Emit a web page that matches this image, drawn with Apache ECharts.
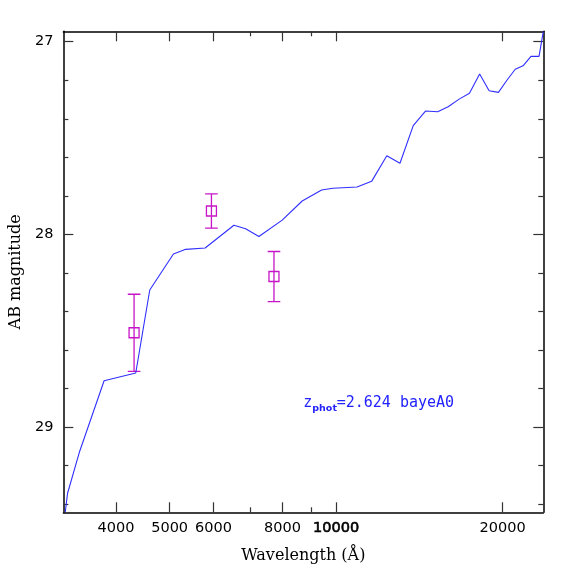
<!DOCTYPE html>
<html>
<head>
<meta charset="utf-8">
<script src="https://cdn.jsdelivr.net/npm/echarts@6/dist/echarts.min.js"></script>
<style>
html,body{margin:0;padding:0;background:#fff;}
#chart{width:574px;height:574px;}
</style>
</head>
<body>
<div id="chart"></div>
<script>
// Model spectrum (wavelength in Angstrom, AB magnitude)
const modelWave = [3237, 3269, 3431, 3806, 4342, 4603, 5080, 5346, 5797, 6535, 6861, 7251, 7990, 8683, 9415, 9868, 10911, 11596, 12351, 13048, 13789, 14510, 15266, 15946, 16695, 17426, 18182, 18913, 19660, 20383, 21086, 21782, 22515, 23280, 23700];
const modelMag  = [29.443, 29.344, 29.134, 28.760, 28.720, 28.289, 28.102, 28.078, 28.071, 27.953, 27.971, 28.011, 27.926, 27.827, 27.770, 27.761, 27.754, 27.725, 27.592, 27.631, 27.436, 27.360, 27.364, 27.338, 27.298, 27.268, 27.168, 27.255, 27.263, 27.199, 27.143, 27.125, 27.076, 27.076, 26.947];
// Observed photometry
const obsWave = [4312, 5951, 7721];
const obsMag  = [28.511, 27.879, 28.219];
const obsErr  = [0.200, 0.089, 0.130];
// Axes
const xRange = [3212, 23700];
const yRange = [26.946, 29.443];
const xMajorTicks = [4000, 5000, 6000, 8000, 10000, 20000];
const xMinorTicks = [7000, 9000];
const yMajorTicks = [27, 28, 29];
const yMinorTicks = [27.2, 27.4, 27.6, 27.8, 28.2, 28.4, 28.6, 28.8, 29.2, 29.4];
const annotation = { sym: 'z', sub: 'phot', rest: '=2.624 bayeA0' };

const lg = Math.log10;
const lineColor = '#2f2fff';
const errColor = '#c814c8';
const tickColor = '#333';
const tickFont = 'DejaVu Sans';

function xAx(pos, ticks, len, showLabel, showLine) {
  return {
    type: 'value', position: pos, min: lg(xRange[0]), max: lg(xRange[1]),
    splitLine: { show: false },
    axisLine: { show: showLine, onZero: false, lineStyle: { color: '#000', width: 1.5 } },
    axisTick: { show: true, inside: true, length: len, customValues: ticks.map(lg), lineStyle: { color: tickColor, width: 1.2 } },
    axisLabel: showLabel ? {
      show: true, customValues: ticks.map(lg), margin: 8, color: '#000', fontFamily: tickFont, fontSize: 14.5,
      formatter: v => { const n = Math.round(Math.pow(10, v)); return n === 10000 ? '{b|' + n + '}' : String(n); },
      rich: { b: { fontFamily: tickFont, fontSize: 14.5, color: '#000', textBorderColor: '#000', textBorderWidth: 0.6 } }
    } : { show: false }
  };
}
function yAx(pos, ticks, len, showLabel, showLine) {
  return {
    type: 'value', position: pos, inverse: true, min: yRange[0], max: yRange[1],
    splitLine: { show: false },
    axisLine: { show: showLine, onZero: false, lineStyle: { color: '#000', width: 1.5 } },
    axisTick: { show: true, inside: true, length: len, customValues: ticks, lineStyle: { color: tickColor, width: 1.2 } },
    axisLabel: showLabel ? { show: true, customValues: ticks, margin: 10, color: '#000', fontFamily: tickFont, fontSize: 14.5, formatter: v => String(Math.round(v)) } : { show: false }
  };
}

const xAxes = [
  xAx('bottom', xMajorTicks, 10, true, true),
  xAx('bottom', xMinorTicks, 5, false, false),
  xAx('top', xMajorTicks, 10, false, true),
  xAx('top', xMinorTicks, 5, false, false)
];
xAxes[0].name = 'Wavelength (\u00c5)';
xAxes[0].nameLocation = 'middle';
xAxes[0].nameGap = 36;
xAxes[0].nameTextStyle = { fontFamily: 'DejaVu Serif', fontSize: 16, color: '#000' };

const yAxes = [
  yAx('left', yMajorTicks, 10, true, true),
  yAx('left', yMinorTicks, 5, false, false),
  yAx('right', yMajorTicks, 10, false, true),
  yAx('right', yMinorTicks, 5, false, false)
];
yAxes[0].name = 'AB magnitude';
yAxes[0].nameLocation = 'middle';
yAxes[0].nameGap = 38;
yAxes[0].nameRotate = 90;
yAxes[0].nameTextStyle = { fontFamily: 'DejaVu Serif', fontSize: 16, color: '#000' };

const chart = echarts.init(document.getElementById('chart'), null, { renderer: 'canvas' });
chart.setOption({
  animation: false,
  backgroundColor: '#fff',
  grid: { left: 62.5, right: 30.7, top: 31.3, bottom: 61.7, containLabel: false },
  xAxis: xAxes,
  yAxis: yAxes,
  series: [
    {
      type: 'line', xAxisIndex: 0, yAxisIndex: 0, showSymbol: false, symbol: 'none', clip: true,
      lineStyle: { color: lineColor, width: 1.1 },
      data: modelWave.map((w, i) => [lg(w), modelMag[i]])
    },
    {
      type: 'custom', xAxisIndex: 0, yAxisIndex: 0, clip: true,
      encode: { x: 0, y: 1 },
      data: obsWave.map((w, i) => [lg(w), obsMag[i], obsErr[i]]),
      renderItem: function (params, api) {
        const x = api.value(0), m = api.value(1), e = api.value(2);
        const c = api.coord([x, m]);
        const t = api.coord([x, m - e]);
        const b = api.coord([x, m + e]);
        const hw = 6.3, hs = 5;
        const st = { stroke: errColor, lineWidth: 1.3, fill: null };
        return {
          type: 'group', children: [
            { type: 'line', shape: { x1: t[0], y1: t[1], x2: b[0], y2: b[1] }, style: st },
            { type: 'line', shape: { x1: t[0] - hw, y1: t[1], x2: t[0] + hw, y2: t[1] }, style: st },
            { type: 'line', shape: { x1: b[0] - hw, y1: b[1], x2: b[0] + hw, y2: b[1] }, style: st },
            { type: 'rect', shape: { x: c[0] - hs, y: c[1] - hs, width: 2 * hs, height: 2 * hs }, style: { stroke: errColor, lineWidth: 1.3, fill: 'none' } }
          ]
        };
      }
    }
  ],
  graphic: [
    { type: 'text', x: 303.3, y: 403.5, style: { text: annotation.sym, fill: '#2222ff', font: '15px "DejaVu Sans Mono"', verticalAlign: 'middle', align: 'left' } },
    { type: 'text', x: 312.3, y: 408.5, style: { text: annotation.sub, fill: '#2222ff', font: 'bold 9.5px "DejaVu Sans"', verticalAlign: 'middle', align: 'left' } },
    { type: 'text', x: 336.7, y: 403.5, style: { text: annotation.rest, fill: '#2222ff', font: '15px "DejaVu Sans Mono"', verticalAlign: 'middle', align: 'left' } }
  ]
});
</script>
</body>
</html>
